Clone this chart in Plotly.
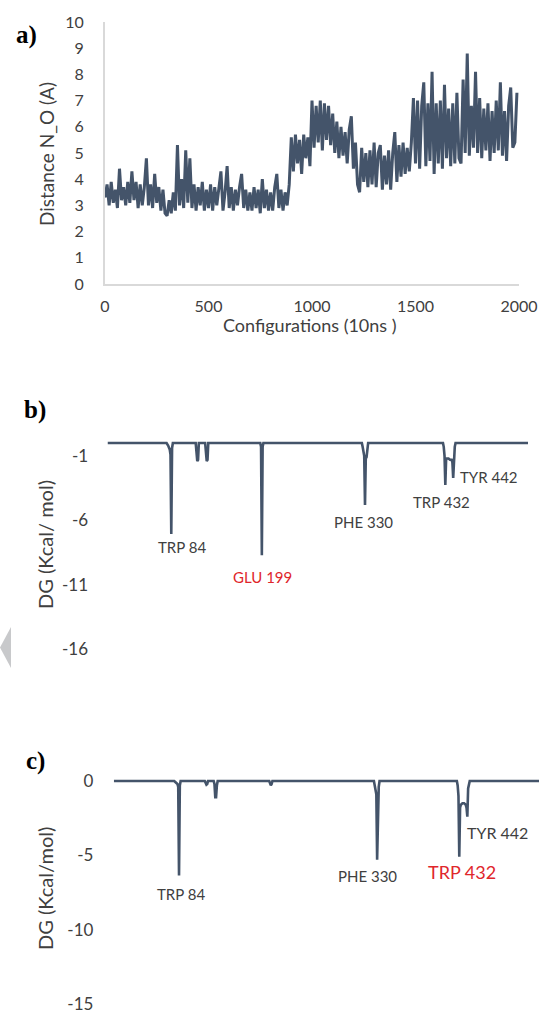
import plotly.graph_objects as go

# ---------------- data ----------------
# Panel a: N-O distance (A) sampled every 10 configurations (0 .. 1990)
config_step = 10
distance = [
    3.3, 3.8, 3.0, 3.9, 3.1, 3.6, 2.9, 4.4, 3.2, 3.7,
    3.0, 3.9, 3.1, 4.3, 3.2, 3.9, 2.9, 3.8, 3.0, 3.7,
    4.8, 3.0, 3.8, 2.9, 4.2, 3.1, 3.7, 2.8, 3.6, 2.7,
    2.6, 3.2, 2.7, 3.5, 2.8, 5.3, 3.0, 4.0, 2.9, 5.1,
    3.1, 4.8, 2.9, 3.8, 2.8, 3.7, 3.0, 3.9, 2.8, 3.6,
    2.9, 3.8, 2.8, 3.7, 3.0, 3.6, 4.3, 2.8, 3.5, 4.5,
    2.9, 3.7, 2.8, 3.6, 3.0, 3.7, 4.2, 2.9, 3.6, 2.8,
    3.5, 2.8, 3.7, 2.9, 3.6, 2.7, 4.0, 2.9, 3.6, 2.8,
    3.5, 2.8, 3.7, 4.2, 2.9, 3.6, 2.8, 3.5, 3.0, 3.8,
    5.6, 4.3, 5.7, 4.6, 5.5, 4.2, 5.7, 4.8, 5.6, 4.5,
    7.0, 5.2, 6.8, 5.4, 7.0, 5.1, 6.9, 5.5, 6.8, 5.3,
    6.5, 5.0, 6.2, 4.8, 6.0, 4.9, 5.8, 4.6, 5.9, 6.4,
    4.4, 5.4, 3.8, 3.5, 5.2, 3.9, 5.0, 3.7, 5.1, 3.8,
    5.4, 3.7, 5.0, 5.3, 3.6, 4.9, 3.8, 5.1, 3.6, 5.0,
    5.8, 3.9, 5.3, 4.1, 5.4, 4.2, 5.2, 4.3, 5.4, 7.1,
    4.6, 7.0, 4.4, 6.8, 7.7, 4.5, 6.9, 4.7, 8.1, 4.2,
    6.9, 4.6, 7.0, 4.4, 7.6, 4.8, 6.7, 4.5, 6.9, 4.6,
    7.3, 4.8, 4.6, 7.8, 5.0, 8.8, 4.9, 6.8, 5.2, 8.1,
    5.0, 7.1, 4.8, 6.7, 5.1, 6.9, 4.7, 6.6, 5.0, 7.0,
    5.1, 7.7, 4.9, 6.6, 4.7, 6.8, 7.5, 5.2, 5.4, 7.3,
]
configs = [i * config_step for i in range(len(distance))]
a_xticks = [0, 500, 1000, 1500, 2000]
a_yticks = list(range(0, 11))

# Panel b: per-residue binding energy DG (kcal/mol)
residues_b = [3, 78, 80, 82, 83, 84, 85, 86,
              115, 116, 117, 118, 119,
              127, 128, 129, 130, 131,
              197, 198, 199, 200, 201,
              326, 327, 328, 329, 330, 331, 332, 333, 334,
              429, 430, 431, 432, 433, 434, 436, 438, 440, 441, 442, 443, 444, 445,
              537]
dg_b = [0, 0, -0.2, -0.5, -0.9, -7.05, -0.4, 0,
        0, -1.3, -1.4, -1.3, 0,
        0, -1.3, -1.4, -1.3, 0,
        0, -0.3, -8.7, -0.3, 0,
        0, -0.3, -0.7, -1.0, -4.8, -1.2, -1.1, -0.4, 0,
        0, -0.3, -1.0, -3.25, -1.3, -1.2, -1.2, -1.3, -1.3, -1.5, -2.7, -0.8, -0.3, 0,
        0]
b_yticks = [-1, -6, -11, -16]
b_yticktext = ["-1", "-6", "-11", "-16"]
b_labels = ["TRP 84", "GLU 199", "PHE 330", "TRP 432", "TYR 442"]
b_label_x = [97.5, 200, 328, 427, 487]
b_label_y = [-8.1, -10.4, -6.1, -4.55, -2.65]
b_label_color = ["#404040", "#e0262b", "#404040", "#404040", "#404040"]
b_label_size = [15, 15, 15, 15, 15]

# Panel c
residues_c = [3, 78, 80, 82, 83, 84, 85, 86,
              116, 117, 118, 119, 120,
              127, 128, 129, 130, 131, 132,
              196, 197, 198, 199, 200,
              326, 327, 328, 329, 330, 331, 332, 333,
              429, 430, 431, 432, 433, 434, 436, 438, 440, 441, 442, 443, 444, 445,
              537]
dg_c = [0, 0, -0.1, -0.2, -0.4, -6.35, -0.3, 0,
        0, -0.2, -0.25, -0.2, 0,
        0, -0.2, -1.1, -1.1, -0.3, 0,
        0, -0.2, -0.3, -0.2, 0,
        0, -0.3, -0.6, -0.9, -5.3, -0.9, -0.4, 0,
        0, -0.3, -1.0, -5.1, -1.8, -1.6, -1.5, -1.5, -1.6, -1.8, -2.4, -0.5, -0.2, 0,
        0]
c_yticks = [0, -5, -10, -15]
c_yticktext = ["0", "-5", "-10", "-15"]
c_labels = ["TRP 84", "PHE 330", "TRP 432", "TYR 442"]
c_label_x = [86.5, 317.5, 435.5, 479]
c_label_y = [-7.6, -6.42, -6.15, -3.48]
c_label_color = ["#404040", "#404040", "#e0262b", "#404040"]
c_label_size = [15, 15, 18, 16]

# ---------------- figure ----------------
W, H = 539, 1014
def px(x):
    return x / W
def py(y):
    return 1 - y / H

LINE = "#44546a"
TICK = "#404040"
FONT = "Lato, Open Sans, sans-serif"

fig = go.Figure()
fig.add_trace(go.Scatter(x=configs, y=distance, mode="lines",
                         line=dict(color=LINE, width=3), xaxis="x", yaxis="y",
                         showlegend=False, hoverinfo="skip"))
fig.add_trace(go.Scatter(x=residues_b, y=dg_b, mode="lines",
                         line=dict(color=LINE, width=2.6), xaxis="x2", yaxis="y2",
                         showlegend=False))
fig.add_trace(go.Scatter(x=residues_c, y=dg_c, mode="lines",
                         line=dict(color=LINE, width=2.6), xaxis="x3", yaxis="y3",
                         showlegend=False))

annotations = []
for t, x, y, c, s in zip(b_labels, b_label_x, b_label_y, b_label_color, b_label_size):
    annotations.append(dict(text=t, x=x, y=y, xref="x2", yref="y2", showarrow=False,
                            xanchor="center", yanchor="middle",
                            font=dict(family=FONT, size=s, color=c)))
for t, x, y, c, s in zip(c_labels, c_label_x, c_label_y, c_label_color, c_label_size):
    annotations.append(dict(text=t, x=x, y=y, xref="x3", yref="y3", showarrow=False,
                            xanchor="center", yanchor="middle",
                            font=dict(family=FONT, size=s, color=c)))

def paper_text(text, x, y, size, angle=0, family=FONT, color=TICK):
    return dict(text=text, x=px(x), y=py(y), xref="paper", yref="paper",
                showarrow=False, xanchor="center", yanchor="middle", textangle=angle,
                font=dict(family=family, size=size, color=color))

# panel letters and axis titles
for t, x, y in [("a)", 26, 35), ("b)", 35, 410), ("c)", 35, 761)]:
    annotations.append(paper_text("<b>" + t + "</b>", x, y, 25,
                                  family="Liberation Serif, serif", color="black"))
annotations.append(paper_text("Distance N_O (A)", 46, 154, 19, angle=-90))
annotations.append(paper_text("Configurations (10ns )", 310, 325, 18))
annotations.append(paper_text("DG (Kcal/ mol)", 45, 545, 20, angle=-90))
annotations.append(paper_text("DG (Kcal/mol)", 45, 889, 20, angle=-90))

fig.update_layout(
    width=W, height=H,
    margin=dict(l=0, r=0, t=0, b=0, autoexpand=False),
    paper_bgcolor="white", plot_bgcolor="white",
    showlegend=False,
    annotations=annotations,
    shapes=[dict(type="path", xref="paper", yref="paper",
                 path=f"M {px(11)},{py(627)} L {px(11)},{py(668)} L 0,{py(647.5)} Z",
                 fillcolor="#c8c9cb", line=dict(width=0))],
    xaxis=dict(domain=[px(105), px(519)], range=[0, 2000], tickvals=a_xticks,
               showline=True, linecolor="#d9d9d9", linewidth=2, showgrid=False, zeroline=False,
               ticks="outside", ticklen=7, tickcolor="rgba(0,0,0,0)", automargin=False,
               ticklabeloverflow="allow",
               tickfont=dict(family=FONT, size=16, color=TICK), anchor="y"),
    yaxis=dict(domain=[py(284), py(22)], range=[0, 10], tickvals=a_yticks,
               showline=True, linecolor="#d9d9d9", linewidth=2, showgrid=False, zeroline=False,
               ticks="outside", ticklen=16, tickcolor="rgba(0,0,0,0)", automargin=False,
               ticklabeloverflow="allow",
               tickfont=dict(family=FONT, size=16, color=TICK), anchor="x"),
    xaxis2=dict(domain=[px(107.5), px(528)], range=[3, 537], visible=False, anchor="y2",
                automargin=False),
    yaxis2=dict(domain=[py(653.3), py(439.1)], range=[-16.3, 0.3], tickvals=b_yticks,
                ticktext=b_yticktext, automargin=False, ticklabeloverflow="allow",
                showline=False, showgrid=False, zeroline=False,
                ticks="outside", ticklen=15, tickcolor="rgba(0,0,0,0)",
                tickfont=dict(family=FONT, size=17, color=TICK), anchor="x2"),
    xaxis3=dict(domain=[px(113.8), 1.0], range=[3, 531], visible=False, anchor="y3",
                automargin=False),
    yaxis3=dict(domain=[py(1008.5), py(776.5)], range=[-15.3, 0.3], tickvals=c_yticks,
                ticktext=c_yticktext, automargin=False, ticklabeloverflow="allow",
                showline=False, showgrid=False, zeroline=False,
                ticks="outside", ticklen=16, tickcolor="rgba(0,0,0,0)",
                tickfont=dict(family=FONT, size=17, color=TICK), anchor="x3"),
)

fig.write_html("out.html",
               config={"displayModeBar": False},
               post_script="document.documentElement.style.overflow='hidden';"
                           "document.body.style.margin='0';document.body.style.overflow='hidden';")
